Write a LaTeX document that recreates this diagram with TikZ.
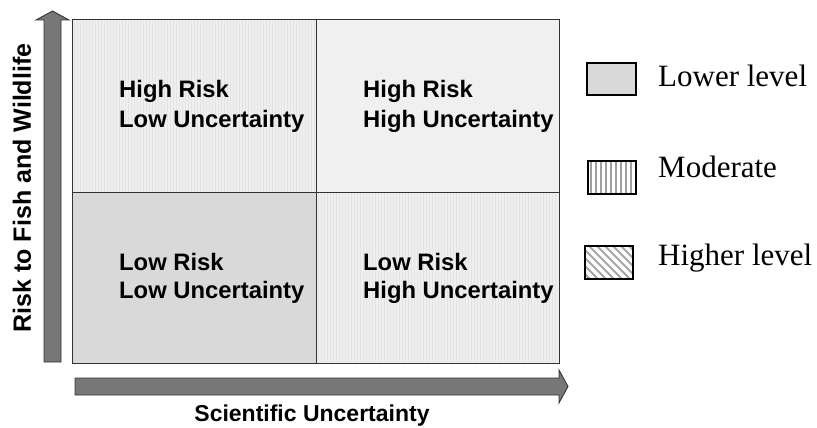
\documentclass[tikz,border=0pt]{standalone}
\usepackage{fontspec}
\setmainfont{Liberation Serif}
\setsansfont{Liberation Sans}
\definecolor{lowfill}{HTML}{D9D9D9}
\definecolor{modfill}{HTML}{EFEFEF}
\definecolor{modstripe}{HTML}{E4E4E4}
\definecolor{highfill}{HTML}{F0F0F0}
\definecolor{gridline}{HTML}{333333}
\definecolor{arrowfill}{HTML}{777777}
\tikzset{
  celltext/.style={anchor=base west, inner sep=0pt, font=\sffamily\bfseries\fontsize{23.8}{28}\selectfont},
  axistext/.style={inner sep=0pt, font=\sffamily\bfseries\fontsize{23}{28}\selectfont},
  legendtext/.style={anchor=base west, inner sep=0pt, font=\fontsize{31}{36}\selectfont},
  bigarrow/.style={fill=arrowfill, draw=gridline, line width=0.9pt, line join=miter},
  legendbox/.style={draw=black, line width=1.6pt},
  cellborder/.style={draw=gridline, line width=1pt}
}
\begin{document}
\begin{tikzpicture}[x=1pt,y=-1pt]
\useasboundingbox (0,0) rectangle (817,428);

% cells
\fill[modfill] (72,20) rectangle (316,192);
\foreach \x in {74,77,...,314} \draw[modstripe, line width=1pt] (\x,20) -- (\x,192);
\fill[highfill] (316,20) rectangle (559,192);
\fill[lowfill] (72,192) rectangle (316,363);
\fill[modfill] (316,192) rectangle (559,363);
\foreach \x in {318,321,...,557} \draw[modstripe, line width=1pt] (\x,192) -- (\x,363);

% grid lines
\draw[cellborder] (72,20) rectangle (559,363);
\draw[cellborder] (316,20) -- (316,363);
\draw[cellborder] (72,192) -- (559,192);

% cell texts
\node[celltext] (tl1) at (119,98) {High Risk};
\node[celltext] (tl2) at (119,127) {Low Uncertainty};
\node[celltext] (tr1) at (363,98) {High Risk};
\node[celltext] (tr2) at (363,127) {High Uncertainty};
\node[celltext] (bl1) at (119,270) {Low Risk};
\node[celltext] (bl2) at (119,298) {Low Uncertainty};
\node[celltext] (br1) at (363,270) {Low Risk};
\node[celltext] (br2) at (363,298) {High Uncertainty};

% axis arrows
\draw[bigarrow] (44,362) -- (44,20) -- (36,20) -- (52.5,11) -- (69,20) -- (61,20) -- (61,362) -- cycle;
\draw[bigarrow] (75,378) -- (559,378) -- (559,370) -- (568,386.5) -- (559,403) -- (559,395) -- (75,395) -- cycle;

% axis labels
\node[axistext, rotate=90, font=\sffamily\bfseries\fontsize{25}{30}\selectfont] (ylab) at (22,188) {Risk to Fish and Wildlife};
\node[axistext, anchor=base] (xlab) at (312,421) {Scientific Uncertainty};

% legend
\fill[lowfill] (587,63) rectangle (636,95);
\draw[legendbox] (587,63) rectangle (636,95);
\node[legendtext] (leg1) at (658,87) {Lower level};

\fill[white] (588,161) rectangle (636,194);
\foreach \x in {591,596,...,633} \draw[gray!75, line width=1.8pt] (\x,161) -- (\x,194);
\draw[legendbox] (588,161) rectangle (636,194);
\node[legendtext] (leg2) at (658,177) {Moderate};

\begin{scope}
\clip (585,246) rectangle (633,279);
\fill[white] (585,246) rectangle (633,279);
\foreach \d in {-60,-52,...,60} \draw[gray!70, line width=2pt] (585+\d,246) -- (585+\d+40,286);
\end{scope}
\draw[legendbox] (585,246) rectangle (633,279);
\node[legendtext] (leg3) at (658,265) {Higher level};
\end{tikzpicture}
\end{document}
